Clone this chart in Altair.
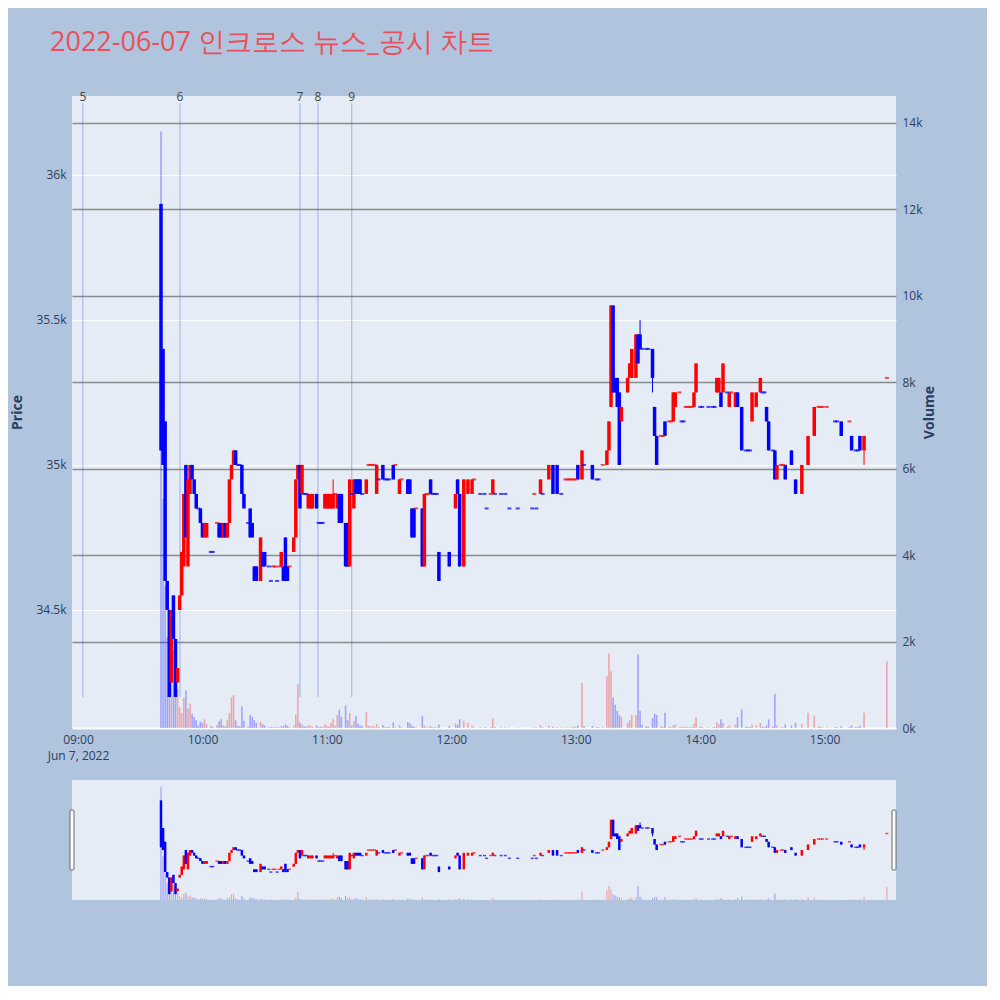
import altair as alt
import pandas as pd

TITLE = "2022-06-07 인크로스 뉴스_공시 차트"
DAY = "2022-06-07"

times = [
    "09:40", "09:41", "09:42", "09:43", "09:44", "09:45", "09:46", "09:47", "09:48", "09:49",
    "09:50", "09:51", "09:52", "09:53", "09:54", "09:55", "09:56", "09:57", "09:58", "09:59",
    "10:00", "10:01", "10:02", "10:04", "10:05", "10:07", "10:08", "10:09", "10:10", "10:11",
    "10:12", "10:13", "10:14", "10:15", "10:16", "10:17", "10:18", "10:19", "10:20", "10:22",
    "10:23", "10:24", "10:25", "10:26", "10:28", "10:29", "10:30", "10:32", "10:33", "10:34",
    "10:35", "10:36", "10:37", "10:38", "10:39", "10:40", "10:41", "10:42", "10:44", "10:45",
    "10:46", "10:47", "10:48", "10:49", "10:50", "10:51", "10:52", "10:53", "10:55", "10:56",
    "10:57", "10:58", "10:59", "11:00", "11:01", "11:02", "11:03", "11:04", "11:05", "11:06",
    "11:07", "11:09", "11:10", "11:11", "11:12", "11:13", "11:14", "11:15", "11:16", "11:17",
    "11:19", "11:20", "11:21", "11:22", "11:23", "11:24", "11:25", "11:27", "11:28", "11:29",
    "11:30", "11:32", "11:33", "11:35", "11:36", "11:39", "11:40", "11:41", "11:42", "11:43",
    "11:46", "11:47", "11:48", "11:49", "11:50", "11:51", "11:52", "11:53", "11:54", "11:59",
    "12:02", "12:03", "12:04", "12:06", "12:08", "12:10", "12:11", "12:14", "12:16", "12:17",
    "12:19", "12:20", "12:21", "12:24", "12:26", "12:28", "12:32", "12:39", "12:40", "12:41",
    "12:43", "12:44", "12:47", "12:49", "12:51", "12:53", "12:55", "12:56", "12:57", "12:58",
    "12:59", "13:00", "13:01", "13:03", "13:04", "13:08", "13:10", "13:11", "13:13", "13:15",
    "13:16", "13:17", "13:18", "13:19", "13:20", "13:21", "13:22", "13:25", "13:26", "13:27",
    "13:29", "13:30", "13:31", "13:32", "13:34", "13:35", "13:37", "13:38", "13:39", "13:41",
    "13:42", "13:43", "13:45", "13:46", "13:47", "13:48", "13:50", "13:51", "13:52", "13:53",
    "13:54", "13:55", "13:56", "13:57", "13:58", "14:00", "14:01", "14:04", "14:06", "14:07",
    "14:08", "14:09", "14:10", "14:11", "14:13", "14:14", "14:15", "14:17", "14:18", "14:20",
    "14:22", "14:23", "14:24", "14:25", "14:27", "14:29", "14:30", "14:31", "14:32", "14:33",
    "14:35", "14:36", "14:37", "14:39", "14:40", "14:41", "14:44", "14:46", "14:49", "14:52",
    "14:55", "14:57", "14:58", "14:59", "15:01", "15:05", "15:06", "15:08", "15:12", "15:13",
    "15:15", "15:16", "15:17", "15:19", "15:30",
]

opens = [
    35900, 35400, 35150, 34600, 34500, 34250, 34550, 34400, 34250, 34500,
    34550, 34650, 35000, 34650, 34900, 35000, 34950, 34900, 34850, 34850,
    34800, 34750, 34750, 34700, 34700, 34800, 34800, 34800, 34750, 34800,
    34750, 34800, 34950, 35000, 35050, 35000, 35000, 35000, 34900, 34800,
    34850, 34800, 34650, 34650, 34600, 34700, 34700, 34650, 34600, 34650,
    34650, 34600, 34650, 34650, 34650, 34750, 34650, 34650, 34700, 34750,
    34950, 35000, 34900, 34900, 34900, 34850, 34850, 34850, 34900, 34800,
    34800, 34800, 34850, 34850, 34850, 34850, 34850, 34900, 34850, 34900,
    34900, 34800, 34800, 34650, 34900, 34850, 34950, 34950, 34950, 34900,
    34900, 35000, 35000, 35000, 35000, 34900, 34950, 35000, 34950, 34950,
    34950, 35000, 35000, 34900, 34950, 34950, 34950, 34850, 34850, 34850,
    34850, 34650, 34900, 34900, 34950, 34900, 34900, 34900, 34700, 34700,
    34850, 34950, 34900, 34650, 34900, 34900, 34950, 34900, 34900, 34850,
    34900, 34900, 34900, 34900, 34900, 34850, 34850, 34850, 34900, 34850,
    34900, 34900, 34950, 35000, 35000, 34900, 34950, 34950, 34950, 34950,
    34950, 34950, 35000, 34950, 35000, 35000, 34950, 34950, 35000, 35000,
    35050, 35200, 35550, 35300, 35300, 35250, 35150, 35250, 35300, 35300,
    35300, 35450, 35450, 35400, 35400, 35400, 35400, 35200, 35100, 35100,
    35100, 35150, 35150, 35150, 35150, 35200, 35250, 35150, 35150, 35200,
    35200, 35200, 35200, 35200, 35250, 35200, 35200, 35200, 35200, 35200,
    35250, 35250, 35250, 35250, 35250, 35200, 35250, 35200, 35250, 35200,
    35050, 35050, 35050, 35150, 35200, 35250, 35250, 35250, 35200, 35150,
    35050, 35050, 34950, 35000, 35000, 35000, 35050, 34950, 34900, 35000,
    35100, 35200, 35200, 35200, 35200, 35150, 35150, 35150, 35150, 35100,
    35050, 35050, 35100, 35050, 35300,
]

highs = [
    35900, 35400, 35150, 34600, 34500, 34500, 34550, 34400, 34300, 34550,
    34700, 34900, 35000, 34950, 35000, 35000, 34950, 34900, 34850, 34850,
    34800, 34800, 34800, 34700, 34700, 34800, 34800, 34800, 34800, 34800,
    34800, 34950, 35000, 35050, 35050, 35000, 35000, 35000, 34900, 34800,
    34850, 34800, 34650, 34650, 34750, 34700, 34700, 34650, 34600, 34650,
    34650, 34600, 34650, 34700, 34650, 34750, 34650, 34650, 34750, 34950,
    35000, 35000, 35000, 34900, 34900, 34900, 34900, 34900, 34900, 34800,
    34800, 34800, 34900, 34900, 34900, 34900, 34950, 34900, 34900, 34900,
    34900, 34800, 34800, 34950, 34900, 34950, 34950, 34950, 34950, 34900,
    34950, 35000, 35000, 35000, 35000, 35000, 34950, 35000, 34950, 34950,
    34950, 35000, 35000, 34950, 34950, 34950, 34950, 34850, 34850, 34850,
    34850, 34900, 34900, 34900, 34950, 34900, 34900, 34900, 34700, 34700,
    34900, 34950, 34900, 34950, 34950, 34950, 34950, 34900, 34900, 34850,
    34900, 34950, 34900, 34900, 34900, 34850, 34850, 34850, 34900, 34850,
    34950, 34900, 35000, 35000, 35000, 34900, 34950, 34950, 34950, 34950,
    34950, 34950, 35000, 35050, 35000, 35000, 34950, 34950, 35000, 35050,
    35150, 35550, 35550, 35300, 35300, 35250, 35200, 35300, 35350, 35400,
    35450, 35450, 35500, 35400, 35400, 35400, 35400, 35200, 35100, 35100,
    35100, 35150, 35150, 35150, 35250, 35250, 35250, 35150, 35150, 35200,
    35200, 35200, 35200, 35250, 35350, 35200, 35200, 35200, 35200, 35200,
    35300, 35300, 35250, 35350, 35250, 35250, 35250, 35250, 35250, 35200,
    35050, 35050, 35050, 35250, 35250, 35300, 35250, 35250, 35200, 35150,
    35050, 35050, 35000, 35000, 35000, 35000, 35050, 34950, 35000, 35100,
    35200, 35200, 35200, 35200, 35200, 35150, 35150, 35150, 35150, 35100,
    35050, 35050, 35100, 35100, 35300,
]

lows = [
    35050, 35000, 34600, 34500, 34200, 34250, 34400, 34200, 34250, 34500,
    34550, 34650, 34750, 34650, 34900, 34950, 34900, 34850, 34850, 34800,
    34750, 34750, 34750, 34700, 34700, 34800, 34750, 34750, 34750, 34750,
    34750, 34800, 34950, 35000, 35000, 35000, 35000, 34900, 34850, 34800,
    34750, 34750, 34600, 34600, 34600, 34650, 34650, 34650, 34600, 34650,
    34650, 34600, 34650, 34650, 34600, 34600, 34600, 34650, 34700, 34750,
    34950, 34850, 34900, 34900, 34900, 34850, 34850, 34850, 34850, 34800,
    34800, 34800, 34850, 34850, 34850, 34850, 34850, 34900, 34850, 34800,
    34800, 34650, 34650, 34650, 34900, 34850, 34900, 34900, 34900, 34900,
    34900, 35000, 35000, 35000, 35000, 34900, 34950, 34950, 34950, 34950,
    34950, 34950, 35000, 34900, 34950, 34900, 34900, 34750, 34750, 34850,
    34650, 34650, 34900, 34900, 34900, 34900, 34900, 34900, 34600, 34650,
    34850, 34900, 34650, 34650, 34900, 34900, 34950, 34900, 34900, 34850,
    34900, 34900, 34900, 34900, 34900, 34850, 34850, 34850, 34900, 34850,
    34900, 34900, 34950, 34900, 34900, 34900, 34950, 34950, 34950, 34950,
    34950, 34950, 34950, 34950, 35000, 34950, 34950, 34950, 35000, 35000,
    35050, 35200, 35250, 35250, 35200, 35000, 35150, 35250, 35300, 35300,
    35300, 35350, 35400, 35400, 35400, 35400, 35250, 35100, 35000, 35100,
    35100, 35100, 35150, 35150, 35150, 35200, 35250, 35150, 35150, 35200,
    35200, 35200, 35200, 35200, 35250, 35200, 35200, 35200, 35200, 35200,
    35250, 35250, 35200, 35250, 35250, 35200, 35250, 35200, 35200, 35050,
    35050, 35050, 35050, 35150, 35200, 35250, 35250, 35250, 35150, 35050,
    35050, 34950, 34950, 35000, 35000, 34950, 35000, 34900, 34900, 35000,
    35100, 35200, 35200, 35200, 35200, 35150, 35150, 35100, 35150, 35050,
    35050, 35050, 35050, 35000, 35300,
]

closes = [
    35050, 35000, 34600, 34500, 34200, 34500, 34400, 34200, 34300, 34550,
    34700, 34900, 34750, 34950, 35000, 34950, 34900, 34850, 34850, 34800,
    34750, 34800, 34800, 34700, 34700, 34800, 34750, 34750, 34800, 34750,
    34800, 34950, 35000, 35050, 35000, 35000, 35000, 34900, 34850, 34800,
    34750, 34750, 34600, 34600, 34750, 34650, 34650, 34650, 34600, 34650,
    34650, 34600, 34650, 34700, 34600, 34600, 34600, 34650, 34750, 34950,
    35000, 34850, 35000, 34900, 34900, 34900, 34900, 34900, 34850, 34800,
    34800, 34800, 34900, 34900, 34900, 34900, 34900, 34900, 34900, 34800,
    34800, 34650, 34650, 34950, 34900, 34950, 34900, 34900, 34900, 34900,
    34950, 35000, 35000, 35000, 35000, 35000, 34950, 34950, 34950, 34950,
    34950, 34950, 35000, 34950, 34950, 34900, 34900, 34750, 34750, 34850,
    34650, 34900, 34900, 34900, 34900, 34900, 34900, 34900, 34600, 34650,
    34900, 34900, 34650, 34950, 34950, 34950, 34950, 34900, 34900, 34850,
    34900, 34950, 34900, 34900, 34900, 34850, 34850, 34850, 34900, 34850,
    34950, 34900, 35000, 34900, 34900, 34900, 34950, 34950, 34950, 34950,
    34950, 34950, 34950, 35050, 35000, 34950, 34950, 34950, 35000, 35050,
    35150, 35550, 35250, 35250, 35200, 35000, 35200, 35300, 35350, 35400,
    35450, 35350, 35400, 35400, 35400, 35400, 35300, 35100, 35000, 35100,
    35100, 35100, 35150, 35150, 35250, 35250, 35250, 35150, 35150, 35200,
    35200, 35200, 35200, 35250, 35350, 35200, 35200, 35200, 35200, 35200,
    35300, 35300, 35200, 35350, 35250, 35250, 35250, 35250, 35200, 35050,
    35050, 35050, 35050, 35250, 35250, 35300, 35250, 35250, 35150, 35050,
    35050, 34950, 35000, 35000, 35000, 34950, 35000, 34900, 35000, 35100,
    35200, 35200, 35200, 35200, 35200, 35150, 35150, 35100, 35150, 35050,
    35050, 35050, 35050, 35100, 35300,
]

volumes = [
    13800, 5300, 3300, 2100, 2700, 1500, 1800, 1200, 900, 480,
    350, 700, 870, 450, 560, 330, 250, 180, 60, 150,
    120, 200, 90, 40, 30, 70, 150, 200, 60, 40,
    180, 350, 700, 760, 180, 50, 40, 500, 170, 30,
    300, 250, 180, 120, 140, 90, 60, 20, 25, 15,
    30, 20, 15, 50, 40, 90, 50, 20, 60, 310,
    1020, 120, 80, 40, 30, 60, 50, 40, 60, 20,
    30, 20, 80, 60, 40, 120, 200, 60, 300, 420,
    250, 520, 180, 350, 60, 160, 280, 100, 60, 40,
    370, 60, 40, 50, 30, 90, 20, 70, 20, 15,
    25, 130, 20, 60, 20, 140, 110, 60, 30, 20,
    280, 60, 20, 15, 40, 15, 15, 10, 80, 50,
    110, 70, 200, 170, 120, 60, 20, 20, 15, 10,
    20, 220, 20, 15, 15, 10, 10, 10, 15, 10,
    70, 15, 60, 30, 20, 10, 15, 10, 10, 15,
    40, 20, 60, 1040, 40, 50, 20, 15, 20, 1200,
    1720, 1310, 700, 540, 400, 300, 250, 120, 180, 300,
    300, 1700, 400, 80, 40, 30, 230, 330, 300, 40,
    30, 350, 30, 20, 60, 80, 20, 30, 15, 30,
    20, 15, 25, 100, 250, 30, 20, 20, 15, 20,
    130, 80, 200, 120, 20, 60, 15, 80, 250, 425,
    30, 20, 25, 80, 60, 120, 30, 20, 60, 200,
    30, 790, 60, 20, 15, 80, 60, 120, 100, 350,
    285, 40, 30, 20, 15, 20, 15, 40, 30, 60,
    20, 15, 50, 350, 1545,
]

event_times = ["09:02:20", "09:49:10", "10:47:00", "10:55:40", "11:12:00"]
event_labels = ["5", "6", "7", "8", "9"]

price_ticks = [34500, 35000, 35500, 36000]
volume_ticks = [0, 2000, 4000, 6000, 8000, 10000, 12000, 14000]
PRICE_DOMAIN = [34093, 36272]
VOLUME_DOMAIN = [0, 14620]

assert len(times) == len(opens) == len(highs) == len(lows) == len(closes) == len(volumes)

# direction (plotly style: equal open/close compares with previous close)
dirs = []
prev_close = None
last = "up"
for o, c in zip(opens, closes):
    if c > o:
        d = "up"
    elif c < o:
        d = "down"
    elif prev_close is None:
        d = "up"
    elif c > prev_close:
        d = "up"
    elif c < prev_close:
        d = "down"
    else:
        d = last
    dirs.append(d)
    last = d
    prev_close = c

df = pd.DataFrame({
    "t": [f"{DAY}T{t}:00" for t in times],
    "open": opens, "high": highs, "low": lows, "close": closes,
    "volume": volumes, "dir": dirs,
})
ev = pd.DataFrame({"t": [f"{DAY}T{t}" for t in event_times], "label": event_labels})
title_df = pd.DataFrame({"title": [TITLE]})

FONT = "Open Sans"
AX = "#2a3f5f"
x_domain = [alt.DateTime(year=2022, month=6, date=7, hours=8, minutes=59, seconds=30),
            alt.DateTime(year=2022, month=6, date=7, hours=15, minutes=32)]
hour_vals = [alt.DateTime(year=2022, month=6, date=7, hours=h) for h in range(9, 16)]

color = alt.Color("dir:N", scale=alt.Scale(domain=["up", "down"], range=["#FF0000", "#0000FF"]), legend=None)
pscale = alt.Scale(domain=PRICE_DOMAIN, nice=False, zero=False)
vscale = alt.Scale(domain=VOLUME_DOMAIN, nice=False, zero=True)


def make_layers(main=True):
    if main:
        xaxis = alt.Axis(values=hour_vals, grid=False, title=None, labelPadding=6,
                         labelFlush=False, labelOverlap=False, labelLineHeight=16,
                         labelExpr="hours(datum.value) == 9 ? ['09:00', 'Jun 7, 2022'] : timeFormat(datum.value, '%H:%M')")
        paxis = alt.Axis(orient="left", values=price_ticks, format="~s", grid=True,
                         gridColor="white", gridWidth=1, title="Price", titleFontWeight="bold",
                         titleFontSize=14, titlePadding=11, labelPadding=6)
        vaxis = alt.Axis(orient="right", values=volume_ticks, format="~s", grid=True,
                         gridColor={"condition": {"test": "datum.value === 0", "value": "white"}, "value": "#8a8a8a"},
                         gridWidth={"condition": {"test": "datum.value === 0", "value": 2}, "value": 1.5},
                         title="Volume", titleFontWeight="bold", titleFontSize=14, titleAngle=270,
                         titlePadding=14, labelPadding=6)
    else:
        xaxis = None
        paxis = None
        vaxis = None

    xs = alt.Scale(domain=x_domain)
    base = alt.Chart(df)
    X = alt.X("t:T", scale=xs, axis=xaxis)

    vol = base.mark_bar(size=1.6 if main else 1.2, opacity=0.3).encode(
        x=X, y=alt.Y("volume:Q", scale=vscale, axis=vaxis), color=color)

    wick = base.mark_rule(strokeWidth=1).encode(
        x=X, y=alt.Y("low:Q", scale=pscale, axis=paxis), y2="high:Q", color=color)
    body = base.mark_rule(strokeWidth=3.5 if main else 2.5).encode(
        x=X, y=alt.Y("open:Q", scale=pscale, axis=paxis), y2="close:Q", color=color)
    dash = base.transform_filter("datum.open == datum.close").mark_tick(
        orient="horizontal", size=4 if main else 3, thickness=2 if main else 1.5).encode(
        x=X, y=alt.Y("close:Q", scale=pscale, axis=paxis), color=color)

    price_layers = [wick, body, dash]
    if main:
        EX = alt.X("t:T", scale=xs, axis=xaxis)
        vline = alt.Chart(ev).mark_rule(color="#4169E1", opacity=0.45, strokeWidth=1).encode(
            x=EX, y=alt.datum(min(lows)), y2=alt.value(7))
        vtext = alt.Chart(ev).mark_text(baseline="middle", align="center", fontSize=12,
                                        color="#444444", font=FONT).encode(
            x=EX, y=alt.value(1), text="label:N")
        ttl = alt.Chart(title_df).mark_text(align="left", baseline="alphabetic", fontSize=27,
                                            color="#E8505B", font=FONT).encode(
            x=alt.value(-22), y=alt.value(-45), text="title:N")
        price_layers = [vline] + price_layers + [vtext, ttl]

    price = alt.layer(*price_layers)
    return alt.layer(vol, price).resolve_scale(y="independent")


main = make_layers(True).properties(width=824, height=632)

handle_df = pd.DataFrame({"h": [0]})
hl = alt.Chart(handle_df).mark_rect(fill="white", stroke="#666666", strokeWidth=1, cornerRadius=1).encode(
    x=alt.value(-2), x2=alt.value(2), y=alt.value(30), y2=alt.value(90))
hr = alt.Chart(handle_df).mark_rect(fill="white", stroke="#666666", strokeWidth=1, cornerRadius=1).encode(
    x=alt.value(820), x2=alt.value(824), y=alt.value(30), y2=alt.value(90))
slider = alt.layer(make_layers(False), hl, hr).properties(width=824, height=120)

chart = alt.vconcat(main, slider, spacing=52, bounds="flush").properties(
    background="#B0C4DE",
    padding={"left": 2, "top": 21, "right": 50, "bottom": 86},
).configure_view(stroke=None, fill="#E5ECF6").configure_axis(
    labelFont=FONT, titleFont=FONT, labelColor=AX, titleColor=AX, labelFontSize=12,
    domain=False, ticks=False,
)

chart.save("out.html", embed_options={"renderer": "svg", "actions": False})
